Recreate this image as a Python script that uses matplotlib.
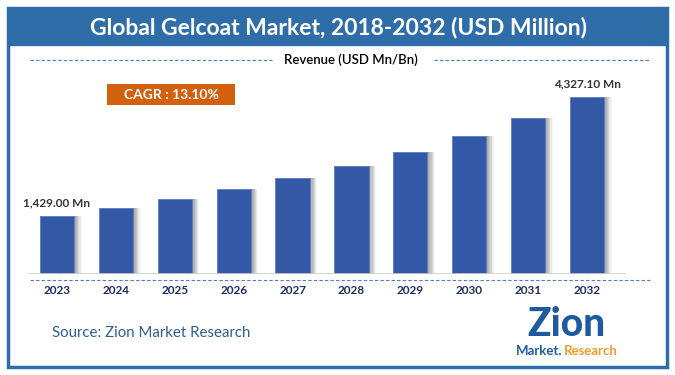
import matplotlib.pyplot as plt
from matplotlib.patches import Rectangle

years = ['2023', '2024', '2025', '2026', '2027', '2028', '2029', '2030', '2031', '2032']
revenue = [1429.0, 1616, 1828, 2067, 2338, 2644, 2990, 3382, 3825, 4327.1]
first_label = '1,429.00 Mn'
last_label = '4,327.10 Mn'
title = 'Global Gelcoat Market, 2018-2032 (USD Million)'
cagr_text = 'CAGR : 13.10%'
source_text = 'Source: Zion Market Research'

W, H = 675, 375
BLUE = '#2E6DA8'
BAR = '#3358A6'
NAVY = '#1F2D5E'

plt.rcParams['font.family'] = ['Lato', 'DejaVu Sans']

fig = plt.figure(figsize=(W / 100, H / 100), dpi=100)

# fond en coordonnees pixels (origine en haut a gauche)
bg = fig.add_axes([0, 0, 1, 1])
bg.set_xlim(0, W)
bg.set_ylim(H, 0)
bg.axis('off')

bg.add_patch(Rectangle((8, 8), 659, 359, fill=False, edgecolor=BLUE, linewidth=2.5))
bg.add_patch(Rectangle((8, 8), 659, 37, facecolor=BLUE, edgecolor=BLUE))
bg.text(338, 27, title, color='white', fontsize=16.5, fontweight='bold',
        ha='center', va='center')

bg.plot([30, 272], [60, 60], '--', color='#4A7CC8', linewidth=0.8, dashes=(3, 2))
bg.plot([434, 650], [60, 60], '--', color='#4A7CC8', linewidth=0.8, dashes=(3, 2))
bg.text(351, 60, 'Revenue (USD Mn/Bn)', color='black', fontsize=9.5,
        fontweight='semibold', ha='center', va='center')

bg.add_patch(Rectangle((107, 84), 128, 21, facecolor='#D2600E'))
bg.text(171, 95, cagr_text, color='white', fontsize=10, fontweight='bold',
        ha='center', va='center')

bg.plot([30, 650], [280, 280], '--', color='#4A7CC8', linewidth=0.8, dashes=(3, 2))

bg.text(52, 333, source_text, color='#2F5E92', fontsize=10.8, ha='left', va='center')

# logo Zion (approximatif)
bg.text(566, 325, 'Zion', color='#1E5AA0', fontsize=28, fontweight='black',
        ha='center', va='center')
bg.text(562, 351, 'Market.', color='#1E5AA0', fontsize=9.5, fontweight='bold',
        ha='right', va='center')
bg.text(564, 351, 'Research', color='#F39A2B', fontsize=9.5, fontweight='bold',
        ha='left', va='center')

# barres
ax = fig.add_axes([28 / W, (H - 274) / H, 598 / W, 214 / H])
x = list(range(len(years)))
for k in range(6):
    ax.bar([i + 0.29 + 0.02 * k for i in x], revenue, width=0.06,
           color='#808080', alpha=0.35 * (1 - k / 6), linewidth=0)
ax.bar(x, revenue, width=0.58, color=BAR, edgecolor='#5C7CC0', linewidth=0.6, zorder=3)
ax.set_xlim(-0.492, 9.662)
ax.set_ylim(0, 5232)
ax.axis('off')
ax.axhline(0, color='#D0D0D0', linewidth=1.2, zorder=4)

ax.text(x[0], revenue[0] + 180, first_label, color='#333333', fontsize=8.5,
        fontweight='bold', ha='center', va='bottom')
ax.text(x[-1], revenue[-1] + 180, last_label, color='#333333', fontsize=8.5,
        fontweight='bold', ha='center', va='bottom')

for i, yr in zip(x, years):
    bg.text(28 + (i + 0.492) * 58.9, 290, yr, color=NAVY, fontsize=8.5,
            fontweight='bold', ha='center', va='center')

fig.savefig('out.png', dpi=100)
